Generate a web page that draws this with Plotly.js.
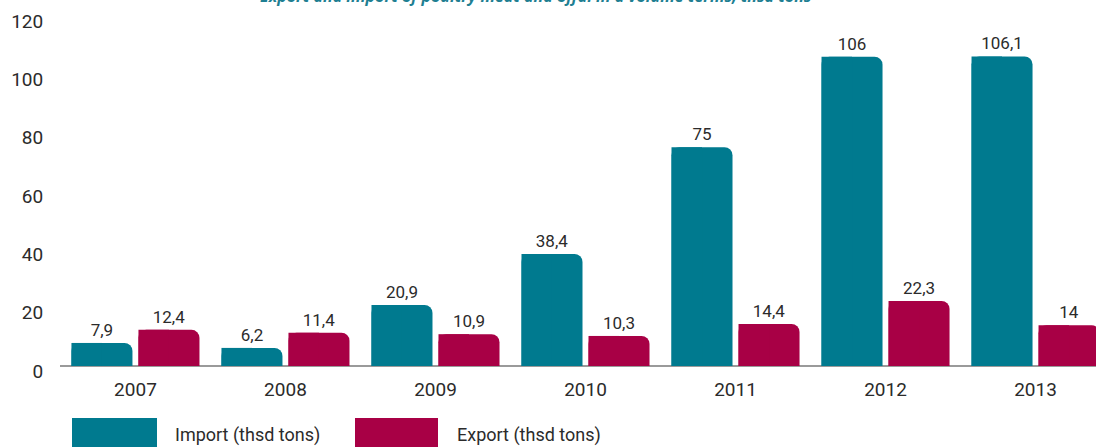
<!DOCTYPE html>
<html>
<head>
<meta charset="utf-8">
<script src="https://cdn.plot.ly/plotly-3.0.1.min.js"></script>
<style>html,body{margin:0;padding:0;background:#fff;}#chart{width:1096px;height:447px;}</style>
</head>
<body>
<div id="chart"></div>
<script>
const years = ['2007', '2008', '2009', '2010', '2011', '2012', '2013'];
const importValues = [7.9, 6.2, 20.9, 38.4, 75, 106, 106.1];
const exportValues = [12.4, 11.4, 10.9, 10.3, 14.4, 22.3, 14];
const seriesNames = ['Import (thsd tons)', 'Export (thsd tons)'];
const chartTitle = 'Export and import of poultry meat and offal in a volume terms, thsd tons';
const yTicks = [0, 20, 40, 60, 80, 100, 120];

const teal = '#007A8F';
const crimson = '#A80045';
const fontFam = 'Roboto, "DejaVu Sans Condensed", sans-serif';

const fmt = v => String(v).replace('.', ',');
const W = 0.4067;
const offImp = -0.4267, offExp = 0.02;

function barPair(vals, color, off, name) {
  return [
    {
      type: 'bar', x: years, y: vals, name: name,
      width: W, offset: off,
      marker: {color: color, cornerradius: 8},
      text: vals.map(fmt), textposition: 'outside', cliponaxis: false,
      textfont: {family: fontFam, size: 17, color: '#2b2b2b'},
      hoverinfo: 'skip', showlegend: false
    },
    {
      type: 'bar', x: years, y: vals, name: name,
      width: W / 2, offset: off,
      marker: {color: color, cornerradius: 0},
      hoverinfo: 'skip', showlegend: false
    }
  ];
}

const data = [
  ...barPair(importValues, teal, offImp, seriesNames[0]),
  ...barPair(exportValues, crimson, offExp, seriesNames[1])
];

// plot area: y from 13 to 366 px (range 0..121)
const PT = 366 - 121 * 2.92;
const PH = 366 - PT;
const py = Y => (366 - Y) / PH;
const px = X => (X - 60) / 1036;

const layout = {
  width: 1096, height: 447,
  margin: {l: 60, r: 0, t: PT, b: 81, pad: 0},
  paper_bgcolor: '#fff', plot_bgcolor: '#fff',
  barmode: 'overlay',
  showlegend: false,
  font: {family: fontFam, color: '#2b2b2b'},
  xaxis: {
    type: 'category', range: [-0.503, 6.403], fixedrange: true,
    showline: false, showgrid: false, zeroline: false,
    ticks: 'outside', ticklen: 6, tickcolor: 'rgba(0,0,0,0)',
    tickfont: {family: fontFam, size: 19, color: '#2b2b2b'}
  },
  yaxis: {
    range: [0, 121], tickvals: yTicks, ticktext: yTicks.map(String),
    showgrid: false, zeroline: true, zerolinecolor: '#9a9a9a', zerolinewidth: 2,
    showline: false, ticks: 'outside', ticklen: 12, tickcolor: 'rgba(0,0,0,0)',
    ticklabelshift: 5,
    tickfont: {family: fontFam, size: 19, color: '#2b2b2b'}
  },
  shapes: [
    {type: 'rect', xref: 'paper', yref: 'paper', x0: px(72), x1: px(157), y0: py(418), y1: py(452), fillcolor: teal, line: {width: 0}},
    {type: 'rect', xref: 'paper', yref: 'paper', x0: px(355), x1: px(438), y0: py(418), y1: py(452), fillcolor: crimson, line: {width: 0}}
  ],
  annotations: [
    {text: '<b><i>' + chartTitle + '</i></b>', xref: 'paper', yref: 'paper', x: px(535.5), y: py(-4), xanchor: 'center', yanchor: 'middle', showarrow: false,
     font: {family: '"Open Sans", "Liberation Sans", sans-serif', size: 16, color: '#1F7F92'}},
    {text: seriesNames[0], xref: 'paper', yref: 'paper', x: px(173), y: py(435), xanchor: 'left', yanchor: 'middle', showarrow: false, font: {family: fontFam, size: 18, color: '#2b2b2b'}},
    {text: seriesNames[1], xref: 'paper', yref: 'paper', x: px(455), y: py(435), xanchor: 'left', yanchor: 'middle', showarrow: false, font: {family: fontFam, size: 18, color: '#2b2b2b'}}
  ]
};

Plotly.newPlot('chart', data, layout, {displayModeBar: false, staticPlot: true});
</script>
</body>
</html>
